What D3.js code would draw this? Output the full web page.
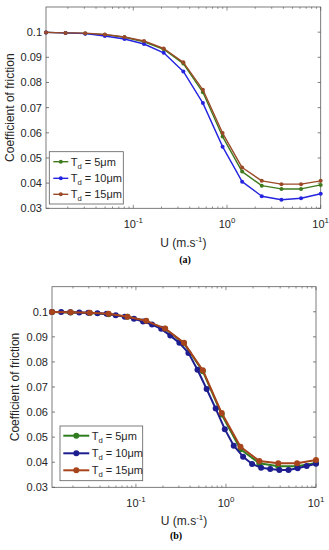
<!DOCTYPE html>
<html>
<head>
<meta charset="utf-8">
<style>
  body { margin: 0; background: #fff; }
  text { font-family: "Liberation Sans", Arial, sans-serif; fill: #262626; }
</style>
</head>
<body>
<script src="https://d3js.org/d3.v7.min.js"></script>
<script>
  // sliding speed U (m/s)
  var uCoarse = [0.0117, 0.0189, 0.0307, 0.0497, 0.0805, 0.130, 0.211, 0.342, 0.553, 0.897, 1.45, 2.35, 3.81, 6.17, 10];
  var uFine = [0.0117, 0.0148, 0.0186, 0.0235, 0.0296, 0.0374, 0.0473, 0.0597, 0.0753, 0.0951,
               0.120, 0.151, 0.191, 0.241, 0.304, 0.383, 0.483, 0.610, 0.769, 0.971,
               1.22, 1.55, 1.95, 2.46, 3.10, 3.92, 4.95, 6.25, 7.88, 10];

  // panel (a)
  var greenA = [0.0999, 0.0997, 0.0995, 0.0990, 0.0980, 0.0962, 0.0932, 0.0875, 0.0761, 0.0585, 0.0446, 0.0390, 0.0377, 0.0377, 0.0393];
  var blueA  = [0.0999, 0.0997, 0.0994, 0.0985, 0.0973, 0.0953, 0.0918, 0.0844, 0.0718, 0.0545, 0.0406, 0.0348, 0.0334, 0.0340, 0.0358];
  var brownA = [0.0999, 0.0997, 0.0996, 0.0991, 0.0981, 0.0965, 0.0935, 0.0880, 0.0771, 0.0599, 0.0462, 0.0409, 0.0396, 0.0396, 0.0409];

  // panel (b)
  var greenB = [0.0999, 0.0997, 0.0995, 0.0990, 0.0980, 0.0963, 0.0932, 0.0874, 0.0763, 0.0590, 0.0452, 0.0396, 0.0384, 0.0384, 0.0397];
  var blueB  = [0.0999, 0.0999, 0.0998, 0.0997, 0.0996, 0.0994, 0.0992, 0.0986, 0.0980, 0.0972,
                0.0961, 0.0949, 0.0932, 0.0905, 0.0876, 0.0836, 0.0769, 0.0692, 0.0614, 0.0532,
                0.0466, 0.0422, 0.0393, 0.0378, 0.0373, 0.0369, 0.0369, 0.0376, 0.0385, 0.0394];
  var brownB = [0.0999, 0.0998, 0.0996, 0.0992, 0.0980, 0.0964, 0.0933, 0.0876, 0.0767, 0.0596, 0.0462, 0.0405, 0.0396, 0.0396, 0.0409];

  var legendLabels = ["5", "10", "15"];
  var yTicks = [0.03, 0.04, 0.05, 0.06, 0.07, 0.08, 0.09, 0.1];
  var xMajor = [0.1, 1, 10];
  var xExp = ["-1", "0", "1"];

  var svg = d3.select("body").append("svg")
    .attr("width", 329)
    .attr("height", 550);

  function drawPanel(p) {
    var x = d3.scaleLog().domain([0.0117, 10]).range([p.left, p.right]);
    var y = d3.scaleLinear().domain([0.03, 0.11]).range([p.bottom, p.top]);
    var g = svg.append("g");

    // box
    g.append("rect")
      .attr("x", p.left).attr("y", p.top)
      .attr("width", p.right - p.left).attr("height", p.bottom - p.top)
      .attr("fill", "none").attr("stroke", "#5c5c5c").attr("stroke-width", 0.8);

    // y ticks (inward, both sides)
    yTicks.forEach(function(t) {
      g.append("line").attr("x1", p.left).attr("x2", p.left + 3)
        .attr("y1", y(t)).attr("y2", y(t)).attr("stroke", "#5c5c5c").attr("stroke-width", 0.8);
      g.append("line").attr("x1", p.right).attr("x2", p.right - 3)
        .attr("y1", y(t)).attr("y2", y(t)).attr("stroke", "#5c5c5c").attr("stroke-width", 0.8);
      g.append("text").attr("x", p.left - 4).attr("y", y(t) + 4)
        .attr("text-anchor", "end").attr("font-size", p.fs)
        .text(t === 0.1 ? "0.1" : t.toFixed(2));
    });

    // x ticks: minor and major, inward, top and bottom
    var minor = [];
    [0.01, 0.1, 1].forEach(function(d) {
      for (var k = 1; k <= 9; k++) {
        var v = d * k;
        if (v >= 0.0117 && v <= 10) minor.push(v);
      }
    });
    minor.push(10);
    minor.forEach(function(v) {
      var major = xMajor.indexOf(v) >= 0;
      var len = major ? 3.5 : 1.8;
      g.append("line").attr("x1", x(v)).attr("x2", x(v))
        .attr("y1", p.bottom).attr("y2", p.bottom - len).attr("stroke", "#5c5c5c").attr("stroke-width", 0.7);
      g.append("line").attr("x1", x(v)).attr("x2", x(v))
        .attr("y1", p.top).attr("y2", p.top + len).attr("stroke", "#5c5c5c").attr("stroke-width", 0.7);
    });
    xMajor.forEach(function(v, i) {
      var t = g.append("text").attr("x", x(v)).attr("y", p.bottom + 20)
        .attr("text-anchor", "middle").attr("font-size", p.fs);
      t.append("tspan").text("10");
      t.append("tspan").attr("dy", -5).attr("font-size", p.fs * 0.72).text(xExp[i]);
    });

    // axis titles
    var xl = g.append("text").attr("x", (p.left + p.right) / 2).attr("y", p.bottom + p.xlOff)
      .attr("text-anchor", "middle").attr("font-size", p.fs + 1);
    xl.append("tspan").text("U (m.s");
    xl.append("tspan").attr("dy", -5).attr("font-size", p.fs * 0.72).text("-1");
    xl.append("tspan").attr("dy", 5).text(")");

    g.append("text")
      .attr("transform", "translate(" + p.ylx + "," + ((p.top + p.bottom) / 2) + ") rotate(-90)")
      .attr("text-anchor", "middle").attr("font-size", p.fs + 1)
      .text("Coefficient of friction");

    g.append("text").attr("x", p.capX).attr("y", p.capY)
      .attr("text-anchor", "middle").attr("font-size", 10).attr("font-weight", "bold")
      .style("font-family", "'Liberation Serif', 'Times New Roman', serif")
      .style("fill", "#000")
      .text(p.cap);

    // series
    var line = d3.line().x(function(d) { return x(d[0]); }).y(function(d) { return y(d[1]); });
    p.series.forEach(function(s) {
      var pts = s.u.map(function(u, i) { return [u, s.v[i]]; });
      g.append("path").datum(pts).attr("d", line)
        .attr("fill", "none").attr("stroke", s.color).attr("stroke-width", p.lw)
        .attr("stroke-linejoin", "round");
      g.selectAll(null).data(pts).enter().append("circle")
        .attr("cx", function(d) { return x(d[0]); })
        .attr("cy", function(d) { return y(d[1]); })
        .attr("r", p.r).attr("fill", s.color);
    });

    // legend
    var lg = g.append("g");
    lg.append("rect").attr("x", p.lg.x).attr("y", p.lg.y)
      .attr("width", p.lg.w).attr("height", p.lg.h)
      .attr("fill", "#fff").attr("stroke", "#5c5c5c").attr("stroke-width", 0.8);
    p.series.forEach(function(s, i) {
      var ly = p.lg.rows[i];
      lg.append("line").attr("x1", p.lg.l1).attr("x2", p.lg.l2)
        .attr("y1", ly).attr("y2", ly).attr("stroke", s.color).attr("stroke-width", p.lw);
      lg.append("circle").attr("cx", (p.lg.l1 + p.lg.l2) / 2).attr("cy", ly)
        .attr("r", p.r).attr("fill", s.color);
      var t = lg.append("text").attr("x", p.lg.tx).attr("y", ly + 4).attr("font-size", p.fs);
      t.append("tspan").text("T");
      t.append("tspan").attr("dy", 3).attr("font-size", p.fs * 0.7).text("d");
      t.append("tspan").attr("dy", -3).text(" = " + legendLabels[i] + "\u03bcm");
    });
  }

  drawPanel({
    left: 46, right: 320.7, top: 7, bottom: 208.3,
    fs: 11, lw: 1.4, r: 2, ylx: 14, cap: "(a)", capX: 185, capY: 263, xlOff: 39,
    series: [
      { u: uCoarse, v: greenA, color: "#3f7a1e" },
      { u: uCoarse, v: blueA, color: "#2424e0" },
      { u: uCoarse, v: brownA, color: "#9a4a28" }
    ],
    lg: { x: 49.3, y: 151.7, w: 74, h: 52.3, rows: [161.7, 178.3, 194.3], l1: 53.3, l2: 68.3, tx: 70.7 }
  });

  drawPanel({
    left: 52, right: 316, top: 286.7, bottom: 487.3,
    fs: 11, lw: 2, r: 3, ylx: 19, cap: "(b)", capX: 176, capY: 539, xlOff: 38,
    series: [
      { u: uCoarse, v: greenB, color: "#2f7d20" },
      { u: uFine, v: blueB, color: "#1e1e90" },
      { u: uCoarse, v: brownB, color: "#a8441c" }
    ],
    lg: { x: 60, y: 426, w: 82.7, h: 54.7, rows: [435.7, 453.3, 470.3], l1: 63.3, l2: 89.3, tx: 91.7 }
  });
</script>
</body>
</html>
